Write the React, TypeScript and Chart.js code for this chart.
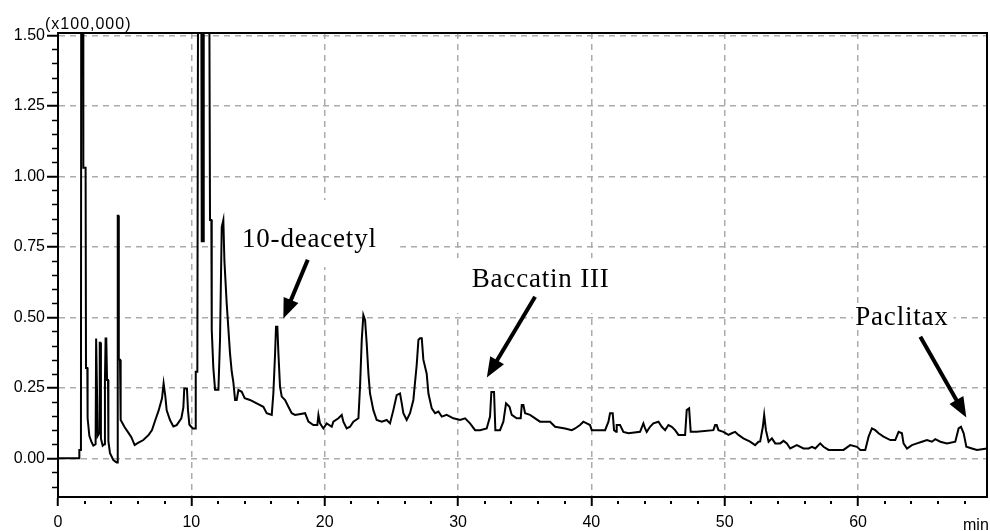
import React, { useEffect, useRef } from 'react';
import { Chart, registerables } from 'chart.js';

Chart.register(...registerables);

// Retention time (min)
const retentionTime = [
  0, 1.58, 1.6, 1.72, 1.74, 1.88, 1.9, 2.07, 2.1, 2.2, 2.22, 2.35, 2.53, 2.65, 2.82, 2.86, 2.92, 2.98, 3.1, 3.13,
  3.18, 3.22, 3.35, 3.48, 3.52, 3.57, 3.62, 3.68, 3.75, 3.78, 3.9, 4.15, 4.4, 4.45, 4.48, 4.53, 4.56, 4.65, 4.7, 5.0,
  5.25, 5.5, 5.75, 6.0, 6.4, 6.8, 7.05, 7.3, 7.55, 7.8, 7.92, 8.05, 8.15, 8.4, 8.65, 8.9, 9.25, 9.4, 9.47, 9.67,
  9.75, 9.85, 10.1, 10.3, 10.33, 10.45, 10.5, 10.75, 10.78, 10.9, 10.93, 11.35, 11.4, 11.5, 11.53, 11.65, 11.78, 12.03, 12.15, 12.28,
  12.4, 12.48, 12.65, 12.9, 13.03, 13.15, 13.28, 13.4, 13.53, 13.78, 14.0, 14.4, 14.9, 15.4, 15.65, 16.03, 16.15, 16.28, 16.35, 16.45,
  16.53, 16.65, 16.78, 17.03, 17.28, 17.53, 17.78, 18.53, 18.78, 19.15, 19.45, 19.53, 19.65, 19.9, 20.15, 20.53, 20.65, 21.03, 21.28, 21.4,
  21.65, 21.9, 22.15, 22.53, 22.65, 22.78, 22.9, 23.03, 23.15, 23.28, 23.4, 23.65, 23.9, 24.28, 24.65, 24.9, 25.15, 25.4, 25.65, 25.78,
  25.9, 26.15, 26.4, 26.65, 26.9, 27.03, 27.15, 27.28, 27.4, 27.65, 27.78, 28.03, 28.28, 28.53, 28.78, 29.15, 29.65, 30.15, 30.53, 30.9,
  31.28, 31.65, 32.15, 32.4, 32.5, 32.7, 32.8, 33.15, 33.4, 33.6, 33.86, 34.03, 34.4, 34.7, 34.78, 34.9, 35.03, 35.4, 35.78, 36.15,
  36.9, 37.28, 38.03, 38.53, 38.78, 39.15, 39.4, 39.65, 39.9, 40.03, 41.03, 41.28, 41.4, 41.6, 41.7, 41.85, 41.9, 42.15, 42.4, 42.78,
  43.65, 43.9, 44.03, 44.15, 44.4, 44.65, 45.03, 45.28, 45.53, 45.78, 46.03, 46.28, 46.53, 47.03, 47.15, 47.33, 47.45, 47.9, 49.15, 49.28,
  49.4, 49.53, 49.9, 50.28, 50.53, 50.78, 51.03, 51.4, 51.9, 52.28, 52.53, 52.66, 52.86, 52.96, 53.09, 53.29, 53.54, 53.79, 54.16, 54.41,
  54.66, 54.91, 55.41, 55.91, 56.29, 56.54, 56.79, 57.16, 57.41, 57.79, 58.91, 59.41, 59.92, 60.17, 60.54, 60.79, 61.04, 61.29, 61.54, 61.91,
  62.42, 62.79, 63.04, 63.29, 63.41, 63.67, 64.04, 64.42, 64.79, 65.17, 65.54, 65.79, 66.17, 66.67, 67.29, 67.54, 67.72, 67.92, 68.12, 68.54,
  68.92, 69.66,
];

// Detector signal (x100,000)
const signal = [
  0, 0, 0.03, 0.03, 1.6, 1.6, 1.03, 1.03, 0.32, 0.32, 0.143, 0.08, 0.056, 0.045, 0.05, 0.425, 0.425, 0.08, 0.09, 0.41,
  0.41, 0.07, 0.045, 0.05, 0.278, 0.425, 0.425, 0.278, 0.278, 0.06, 0.018, -0.006, -0.015, -0.015, 0.86, 0.86, 0.35, 0.35, 0.136, 0.11,
  0.093, 0.075, 0.047, 0.055, 0.065, 0.083, 0.1, 0.136, 0.17, 0.213, 0.266, 0.22, 0.17, 0.136, 0.113, 0.118, 0.142, 0.18, 0.248, 0.248,
  0.17, 0.12, 0.106, 0.106, 0.307, 0.307, 1.6, 1.6, 0.77, 0.77, 1.6, 1.6, 0.845, 0.845, 0.455, 0.32, 0.243, 0.243, 0.42, 0.82,
  0.845, 0.7, 0.55, 0.372, 0.307, 0.27, 0.207, 0.207, 0.242, 0.236, 0.213, 0.207, 0.195, 0.183, 0.16, 0.154, 0.23, 0.372, 0.467, 0.467,
  0.372, 0.254, 0.219, 0.207, 0.183, 0.16, 0.154, 0.16, 0.13, 0.118, 0.118, 0.154, 0.124, 0.106, 0.124, 0.112, 0.13, 0.142, 0.154, 0.13,
  0.106, 0.112, 0.13, 0.142, 0.254, 0.42, 0.508, 0.49, 0.408, 0.3, 0.23, 0.171, 0.136, 0.13, 0.136, 0.124, 0.171, 0.224, 0.23, 0.195,
  0.16, 0.136, 0.16, 0.207, 0.331, 0.42, 0.426, 0.426, 0.35, 0.3, 0.23, 0.177, 0.16, 0.166, 0.148, 0.154, 0.142, 0.136, 0.142, 0.124,
  0.1, 0.1, 0.106, 0.148, 0.235, 0.235, 0.1, 0.1, 0.13, 0.195, 0.183, 0.154, 0.142, 0.142, 0.189, 0.189, 0.16, 0.154, 0.142, 0.13,
  0.13, 0.112, 0.106, 0.1, 0.106, 0.118, 0.13, 0.124, 0.118, 0.1, 0.1, 0.13, 0.16, 0.16, 0.1, 0.094, 0.118, 0.118, 0.094, 0.089,
  0.094, 0.124, 0.106, 0.094, 0.112, 0.124, 0.13, 0.112, 0.1, 0.118, 0.112, 0.1, 0.083, 0.083, 0.171, 0.177, 0.094, 0.094, 0.1, 0.118,
  0.118, 0.1, 0.094, 0.083, 0.089, 0.094, 0.083, 0.071, 0.059, 0.047, 0.059, 0.06, 0.112, 0.154, 0.1, 0.059, 0.071, 0.053, 0.053, 0.062,
  0.053, 0.035, 0.047, 0.035, 0.035, 0.041, 0.035, 0.053, 0.041, 0.03, 0.03, 0.047, 0.041, 0.03, 0.03, 0.077, 0.106, 0.1, 0.089, 0.077,
  0.065, 0.065, 0.094, 0.089, 0.053, 0.035, 0.047, 0.053, 0.059, 0.065, 0.059, 0.068, 0.059, 0.053, 0.059, 0.106, 0.112, 0.089, 0.041, 0.035,
  0.03, 0.035,
];

// Axis ranges and tick steps
const xMin = 0;
const xMax = 69.67;
const yMin = -0.137;
const yMax = 1.508;
const xMajorStep = 10;
const xMinorStep = 2;
const yMajorStep = 0.25;
const yMinorStep = 0.05;

// Peak annotations (data units)
const peakNames = ['10-deacetyl', 'Baccatin III', 'Paclitax'];
const nameX = [13.8, 31.03, 59.79];
const nameY = [0.75, 0.6085, 0.473];
const arrowStartX = [18.73, 35.78, 64.67];
const arrowStartY = [0.704, 0.573, 0.431];
const arrowEndX = [16.9, 32.16, 68.12];
const arrowEndY = [0.496, 0.287, 0.145];
const maskX0 = [11.8, 29.6, 59.6];
const maskX1 = [25.66, 42.2, 67.15];
const maskY0 = [0.678, 0.515, 0.466];
const maskY1 = [0.916, 0.71, 0.551];

const SANS = '"Liberation Sans", Arial, sans-serif';
const SERIF = '"Liberation Serif", "Times New Roman", serif';

function drawArrow(ctx: CanvasRenderingContext2D, x1: number, y1: number, x2: number, y2: number) {
  const ang = Math.atan2(y2 - y1, x2 - x1);
  const headLen = 20;
  const headHalf = 8;
  const c = Math.cos(ang);
  const s = Math.sin(ang);
  const bx = x2 - headLen * c;
  const by = y2 - headLen * s;
  ctx.lineWidth = 4;
  ctx.lineCap = 'butt';
  ctx.beginPath();
  ctx.moveTo(x1, y1);
  ctx.lineTo(bx + 2 * c, by + 2 * s);
  ctx.stroke();
  ctx.beginPath();
  ctx.moveTo(x2, y2);
  ctx.lineTo(bx - headHalf * s, by + headHalf * c);
  ctx.lineTo(bx + headHalf * s, by - headHalf * c);
  ctx.closePath();
  ctx.fill();
}

const decorPlugin = {
  id: 'chromDecor',
  beforeDatasetsDraw(chart: any) {
    const { ctx, scales } = chart;
    const x = scales.x;
    const y = scales.y;
    ctx.save();
    ctx.fillStyle = '#ffffff';
    for (let i = 0; i < peakNames.length; i++) {
      const px0 = x.getPixelForValue(maskX0[i]);
      const px1 = x.getPixelForValue(maskX1[i]);
      const py0 = y.getPixelForValue(maskY1[i]);
      const py1 = y.getPixelForValue(maskY0[i]);
      ctx.fillRect(px0, py0, px1 - px0, py1 - py0);
    }
    ctx.restore();
  },
  afterDatasetsDraw(chart: any) {
    const { ctx, scales, chartArea } = chart;
    const x = scales.x;
    const y = scales.y;
    const { left, top, right, bottom } = chartArea;
    ctx.save();
    ctx.strokeStyle = '#000';
    ctx.fillStyle = '#000';
    ctx.setLineDash([]);

    // top and right frame
    ctx.lineWidth = 2;
    ctx.beginPath();
    ctx.moveTo(left - 1, top);
    ctx.lineTo(right, top);
    ctx.lineTo(right, bottom + 1);
    ctx.stroke();

    // minor y ticks
    ctx.lineWidth = 1.5;
    const kMin = Math.ceil(yMin / yMinorStep);
    const kMax = Math.floor(yMax / yMinorStep);
    const ratioY = Math.round(yMajorStep / yMinorStep);
    for (let k = kMin; k <= kMax; k++) {
      if (k % ratioY === 0) continue;
      const py = Math.round(y.getPixelForValue(k * yMinorStep)) + 0.5;
      ctx.beginPath();
      ctx.moveTo(left - 6, py);
      ctx.lineTo(left, py);
      ctx.stroke();
    }

    // minor x ticks (short marks below the axis)
    ctx.lineWidth = 2;
    const ratioX = Math.round(xMajorStep / xMinorStep);
    for (let k = 1; k * xMinorStep <= xMax; k++) {
      if (k % ratioX === 0) continue;
      const px = Math.round(x.getPixelForValue(k * xMinorStep));
      ctx.beginPath();
      ctx.moveTo(px, bottom + 4);
      ctx.lineTo(px, bottom + 7);
      ctx.stroke();
    }

    // peak labels and arrows
    ctx.font = `27px ${SERIF}`;
    ctx.textAlign = 'left';
    ctx.textBaseline = 'alphabetic';
    (ctx as any).letterSpacing = '0.8px';
    for (let i = 0; i < peakNames.length; i++) {
      ctx.fillText(peakNames[i], x.getPixelForValue(nameX[i]), y.getPixelForValue(nameY[i]));
    }
    (ctx as any).letterSpacing = '0px';
    for (let i = 0; i < peakNames.length; i++) {
      drawArrow(
        ctx,
        x.getPixelForValue(arrowStartX[i]),
        y.getPixelForValue(arrowStartY[i]),
        x.getPixelForValue(arrowEndX[i]),
        y.getPixelForValue(arrowEndY[i])
      );
    }

    // unit labels
    ctx.font = `16px ${SANS}`;
    (ctx as any).letterSpacing = '1px';
    ctx.fillText('(x100,000)', left - 13, top - 4);
    (ctx as any).letterSpacing = '0px';
    ctx.fillText('min', right - 24, bottom + 33);
    ctx.restore();
  },
};

export default function App() {
  const canvasRef = useRef<HTMLCanvasElement | null>(null);

  useEffect(() => {
    const canvas = canvasRef.current;
    if (!canvas) return;
    const points = retentionTime.map((t, i) => ({ x: t, y: signal[i] }));
    const chart = new Chart(canvas, {
      type: 'line',
      data: {
        datasets: [
          {
            data: points,
            borderColor: '#000',
            borderWidth: 2,
            pointRadius: 0,
            tension: 0,
            fill: false,
          },
        ],
      },
      options: {
        animation: false,
        responsive: false,
        maintainAspectRatio: false,
        layout: { padding: { top: 33, right: 3, left: 0, bottom: 0 } },
        plugins: {
          legend: { display: false },
          tooltip: { enabled: false },
        },
        scales: {
          x: {
            type: 'linear',
            min: xMin,
            max: xMax,
            afterFit: (s: any) => {
              s.height = 34;
            },
            ticks: {
              stepSize: xMajorStep,
              includeBounds: false,
              autoSkip: false,
              maxRotation: 0,
              padding: 7,
              color: '#000',
              font: { family: SANS, size: 16 },
            },
            grid: {
              color: (c: any) => (c.tick && c.tick.value === 0 ? 'rgba(0,0,0,0)' : '#ababab'),
              lineWidth: 1.5,
              tickLength: 9,
              tickColor: '#000',
              tickWidth: 2,
            },
            border: { display: true, color: '#000', width: 2, dash: [6, 5] },
          },
          y: {
            type: 'linear',
            min: yMin,
            max: yMax,
            afterFit: (s: any) => {
              s.width = 58;
            },
            ticks: {
              stepSize: yMajorStep,
              includeBounds: false,
              autoSkip: false,
              padding: 2,
              color: '#000',
              font: { family: SANS, size: 16 },
              callback: (v: any) => Number(v).toFixed(2),
            },
            grid: {
              color: '#ababab',
              lineWidth: 1.5,
              tickLength: 11,
              tickColor: '#000',
              tickWidth: 2,
            },
            border: { display: true, color: '#000', width: 2, dash: [6, 5] },
          },
        },
      },
      plugins: [decorPlugin],
    } as any);
    return () => {
      chart.destroy();
    };
  }, []);

  return (
    <div style={{ position: 'absolute', left: 0, top: 0, width: 990, height: 531, background: '#fff' }}>
      <canvas ref={canvasRef} width={990} height={531} style={{ display: 'block' }} />
    </div>
  );
}
